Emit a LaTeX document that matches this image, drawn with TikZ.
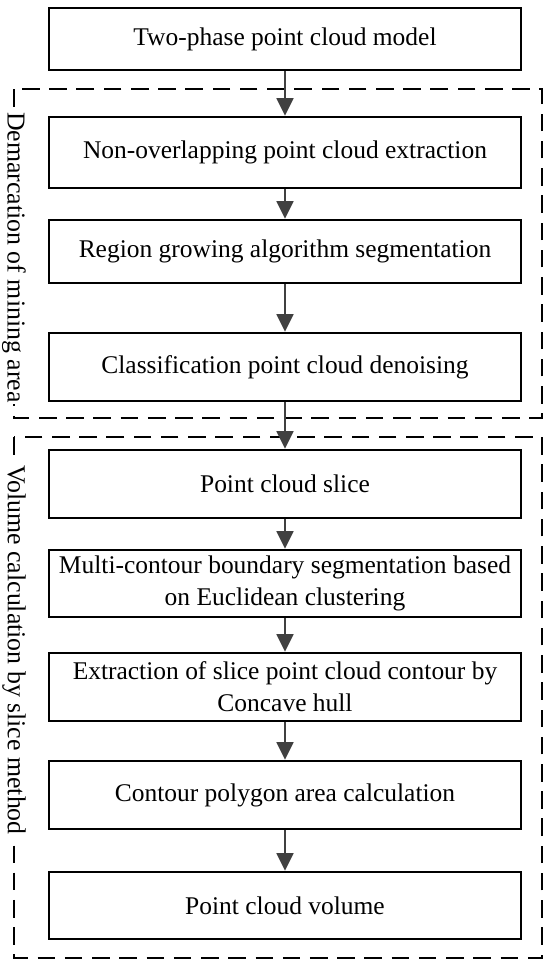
\documentclass[tikz,border=0pt]{standalone}
\usepackage{fontspec}
\setmainfont{Liberation Serif}
\usetikzlibrary{arrows.meta}
\definecolor{myarrowcolor}{HTML}{404040}

\begin{document}
\begin{tikzpicture}[x=0.02cm, y=-0.02cm,
  stagebox/.style={draw, line width=1.5pt, fill=white, rectangle, minimum width=9.44cm, inner sep=0pt, align=center, font=\fontsize{14.5pt}{18.3pt}\selectfont},
  groupframe/.style={line width=1.1pt, dash pattern=on 10pt off 5.5pt},
  sidelabel/.style={fill=white, rotate=-90, anchor=west, inner sep=1pt, font=\fontsize{14.7pt}{14.7pt}\selectfont},
  flowarrow/.style={draw=myarrowcolor, line width=1.6pt, -{Triangle[length=10pt, width=9.5pt, fill=myarrowcolor]}}]%
\useasboundingbox (0, 0) rectangle (550, 968);%
\draw[groupframe] (14, 89) rectangle (542, 418);%
\draw[groupframe] (14, 437) rectangle (542, 958);%
\node[sidelabel] (demarcation) at (14, 110) {Demarcation of mining area};%
\node[sidelabel] (volumecalc) at (14, 463) {Volume calculation by slice method};%
\node[stagebox, minimum height=1.24cm] (model) at (285, 39) {Two-phase point cloud model};%
\node[stagebox, minimum height=1.42cm] (nonoverlap) at (285, 152.5) {Non-overlapping point cloud extraction};%
\node[stagebox, minimum height=1.26cm] (growing) at (285, 251.5) {Region growing algorithm segmentation};%
\node[stagebox, minimum height=1.36cm] (denoising) at (285, 367) {Classification point cloud denoising};%
\node[stagebox, minimum height=1.36cm] (slice) at (285, 484) {Point cloud slice};%
\node[stagebox, minimum height=1.34cm] (multicontour) at (285, 583.5) {Multi-contour boundary segmentation based\\on Euclidean clustering};%
\node[stagebox, minimum height=1.36cm] (concave) at (285, 687) {Extraction of slice point cloud contour by\\Concave hull};%
\node[stagebox, minimum height=1.36cm] (area) at (285, 795) {Contour polygon area calculation};%
\node[stagebox, minimum height=1.34cm] (volume) at (285, 905.5) {Point cloud volume};%
\draw[flowarrow] (model) -- (nonoverlap);%
\draw[flowarrow] (nonoverlap) -- (growing);%
\draw[flowarrow] (growing) -- (denoising);%
\draw[flowarrow] (denoising) -- (slice);%
\draw[flowarrow] (slice) -- (multicontour);%
\draw[flowarrow] (multicontour) -- (concave);%
\draw[flowarrow] (concave) -- (area);%
\draw[flowarrow] (area) -- (volume);%
\end{tikzpicture}
\end{document}
